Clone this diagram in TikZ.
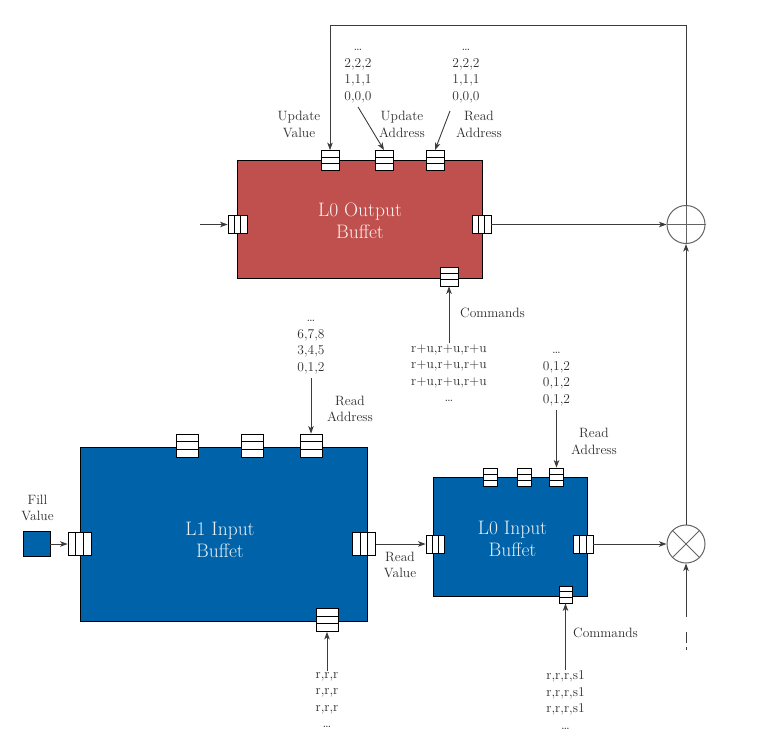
\documentclass[tikz,border=0pt]{standalone}
\usepackage{fontspec}
\setmainfont{Latin Modern Roman}
\usetikzlibrary{arrows.meta,calc}
\definecolor{bred}{HTML}{C0504D}
\definecolor{bblue}{HTML}{0063A9}
\definecolor{txt}{HTML}{2E2E2E}
\definecolor{ln}{HTML}{3C3C3C}
\tikzset{
  buf/.style 2 args={draw=black, line width=0.9pt, minimum width=#1, minimum height=#2, inner sep=0pt},
  rowport/.style 2 args={draw=black, fill=white, line width=0.8pt, minimum width=#1, minimum height=#2, inner sep=0pt,
    path picture={
      \draw[line width=0.8pt]
      ($(path picture bounding box.north west)!1/3!(path picture bounding box.south west)$) --
      ($(path picture bounding box.north east)!1/3!(path picture bounding box.south east)$)
      ($(path picture bounding box.north west)!2/3!(path picture bounding box.south west)$) --
      ($(path picture bounding box.north east)!2/3!(path picture bounding box.south east)$);}},
  colport/.style 2 args={draw=black, fill=white, line width=0.8pt, minimum width=#1, minimum height=#2, inner sep=0pt,
    path picture={
      \draw[line width=0.8pt]
      ($(path picture bounding box.north west)!1/3!(path picture bounding box.north east)$) --
      ($(path picture bounding box.south west)!1/3!(path picture bounding box.south east)$)
      ($(path picture bounding box.north west)!2/3!(path picture bounding box.north east)$) --
      ($(path picture bounding box.south west)!2/3!(path picture bounding box.south east)$);}},
  lbl/.style={text=txt, font=\fontsize{13.5}{16.5}\selectfont, align=center, inner sep=1pt},
  redlbl/.style={text=white!92!bred, font=\fontsize{19.5}{22.5}\selectfont, align=center},
  bluelbl/.style={text=white!90!bblue, font=\fontsize{19.5}{22.5}\selectfont, align=center},
  op/.style={circle, draw=ln!80, line width=1pt, minimum size=38pt, inner sep=0pt},
  conn/.style={draw=ln, line width=0.9pt, -{Stealth[length=7.5pt,width=5.5pt,inset=2pt]}},
}
\begin{document}
\begin{tikzpicture}[x=1pt,y=-1pt]
\useasboundingbox (0,0) rectangle (776,744);
% buffers
\node[buf={245}{118}, fill=bred] (outbuf) at (359.5,219) {};
\node[buf={287}{174}, fill=bblue] (l1buf) at (223.5,534) {};
\node[buf={154}{119}, fill=bblue] (l0buf) at (510,536.5) {};
\node[buf={27}{25}, fill=bblue] (fill) at (36.5,544) {};
\node[redlbl] (outlbl) at (360,221) {L0 Output\\Buffet};
\node[bluelbl] (l1lbl) at (220,540) {L1 Input\\Buffet};
\node[bluelbl] (l0lbl) at (512.5,539) {L0 Input\\Buffet};
% ports of output buffet
\node[rowport={18}{20}] (op1) at (330,160.5) {};
\node[rowport={18}{20}] (op2) at (384,160.5) {};
\node[rowport={18}{20}] (op3) at (435,160.5) {};
\node[colport={19}{18}] (opL) at (237.5,224.5) {};
\node[colport={19}{18}] (opR) at (481.5,224.5) {};
\node[rowport={18}{19}] (opB) at (449,276.5) {};
% ports of L1
\node[rowport={22}{23}] (l1p1) at (187.7,445.5) {};
\node[rowport={22}{23}] (l1p2) at (252,445.5) {};
\node[rowport={22}{23}] (l1p3) at (311,445.5) {};
\node[colport={23}{23}] (l1L) at (79.5,544) {};
\node[colport={23}{23}] (l1R) at (364,544) {};
\node[rowport={22}{23}] (l1B) at (327,620) {};
% ports of L0 input
\node[rowport={14}{18}] (l0p1) at (490,477) {};
\node[rowport={14}{18}] (l0p2) at (524.5,477) {};
\node[rowport={14}{18}] (l0p3) at (556.5,477) {};
\node[colport={18}{18}] (l0L) at (435,544) {};
\node[colport={20}{18}] (l0R) at (583,544) {};
\node[rowport={13}{17}] (l0B) at (565.5,594.5) {};
% operators
\node[op] (plus) at (686,224.5) {};
\draw[ln!80, line width=1pt] (plus.north) -- (plus.south) (plus.west) -- (plus.east);
\node[op] (times) at (686,544) {};
\draw[ln!80, line width=1pt] (times.north west) -- (times.south east) (times.north east) -- (times.south west);
% labels
\node[lbl] (ua) at (358,76) {…\\2,2,2\\1,1,1\\0,0,0};
\node[lbl] (ra) at (466,76) {…\\2,2,2\\1,1,1\\0,0,0};
\node[lbl] (uvl) at (299,124.5) {Update\\Value};
\node[lbl] (ual) at (402,124.5) {Update\\Address};
\node[lbl] (ral) at (479,124.5) {Read\\Address};
\node[lbl, anchor=west] (cmd1) at (459,313) {Commands};
\node[lbl] (rpu) at (449,373) {r+u,r+u,r+u\\r+u,r+u,r+u\\r+u,r+u,r+u\\…};
\node[lbl] (l1ra) at (311,347) {…\\6,7,8\\3,4,5\\0,1,2};
\node[lbl] (l1ral) at (350,409) {Read\\Address};
\node[lbl] (fvl) at (37.5,508) {Fill\\Value};
\node[lbl] (l1cmd) at (327,700) {r,r,r\\r,r,r\\r,r,r\\…};
\node[lbl] (rvl) at (400,565) {Read\\Value};
\node[lbl] (l0ra) at (556.5,379) {…\\0,1,2\\0,1,2\\0,1,2};
\node[lbl] (l0ral) at (594,441.5) {Read\\Address};
\node[lbl, anchor=west] (cmd2) at (572,633) {Commands};
\node[lbl] (l0cmd) at (565.5,700) {r,r,r,s1\\r,r,r,s1\\r,r,r,s1\\…};
% coordinates
\coordinate (tl) at (330,25);
\coordinate (inL) at (200,224.5);
\coordinate (dsh) at (686,650);
% connectors
\draw[conn] (plus.north) |- (tl) -- (op1.north);
\draw[conn] ([yshift=-3pt]ua.south) -- (op2.north);
\draw[conn] ([xshift=-16pt,yshift=-7pt]ra.south) -- (op3.north);
\draw[conn] (inL) -- (opL.west);
\draw[conn] (opR.east) -- (plus.west);
\draw[conn] (rpu.north) -- (opB.south);
\draw[conn] ([yshift=-3pt]l1ra.south) -- (l1p3.north);
\draw[conn] (fill.east) -- (l1L.west);
\draw[conn] (l1R.east) -- (l0L.west);
\draw[conn] (l0R.east) -- (times.west);
\draw[conn] ([yshift=-3pt]l0ra.south) -- (l0p3.north);
\draw[conn] (l0cmd.north) -- (l0B.south);
\draw[conn] (l1cmd.north) -- (l1B.south);
\draw[conn] (times.north) -- (plus.south);
\draw[conn, dash pattern=on 3pt off 4pt on 11pt off 15pt on 200pt] (dsh) -- (times.south);
\end{tikzpicture}
\end{document}
